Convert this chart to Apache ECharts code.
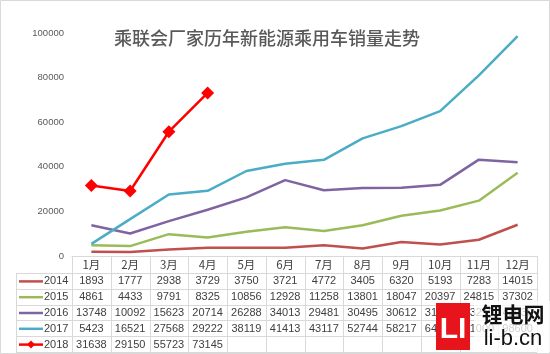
<!DOCTYPE html>
<html><head><meta charset="utf-8">
<script src="https://cdn.jsdelivr.net/npm/echarts@6/dist/echarts.min.js"></script>
<style>html,body{margin:0;padding:0;background:#fff}#c{width:550px;height:354px}</style>
</head><body><div id="c"></div>
<script>
const months = ['1月','2月','3月','4月','5月','6月','7月','8月','9月','10月','11月','12月'];
const years = ['2014','2015','2016','2017','2018'];
const s2014 = [1893,1777,2938,3729,3750,3721,4772,3405,6320,5193,7283,14015];
const s2015 = [4861,4433,9791,8325,10856,12928,11258,13801,18047,20397,24815,37302];
const s2016 = [13748,10092,15623,20714,26288,34013,29481,30495,30612,31900,43210,42030];
const s2017 = [5423,16521,27568,29222,38119,41413,43117,52744,58217,64930,81000,98600];
const s2018 = [31638,29150,55723,73145];
const colors = ['#C0504D','#9BBB59','#8064A2','#4BACC6','#FF0000'];
const allData = [s2014,s2015,s2016,s2017,s2018];
const titleText = '乘联会厂家历年新能源乘用车销量走势';

(function(){
const chart = echarts.init(document.getElementById('c'));
const series = years.map((y,i)=>({
  name:y, type:'line', data: allData[i],
  symbol: i===4 ? 'diamond' : 'none', symbolSize: 13,
  lineStyle:{color:colors[i], width:2.5},
  itemStyle:{color:colors[i]},
  z: 2+i
}));
chart.setOption({
  animation:false,
  title:{text:titleText, left:262, top:24, textAlign:'center',
    textStyle:{fontFamily:'Noto Sans CJK SC', fontSize:18, fontWeight:500, color:'#595959'}},
  grid:{left:72, right:13, top:33, bottom:98},
  xAxis:{type:'category', data:months, boundaryGap:true,
    axisLine:{lineStyle:{color:'#d9d9d9'}}, axisTick:{show:false}, axisLabel:{show:false}},
  yAxis:{type:'value', min:0, max:100000, interval:20000,
    splitLine:{show:false}, axisLine:{show:false}, axisTick:{show:false},
    axisLabel:{fontFamily:'Liberation Sans', fontSize:9.5, color:'#595959', margin:8,
      formatter:function(v){return String(v);}}},
  series: series
});

const g = [];
const c0 = chart.convertToPixel({xAxisIndex:0}, 0);
const band = chart.convertToPixel({xAxisIndex:0}, 1) - c0;
const leftX = c0 - band/2, rightX = leftX + band*12;
const topY = chart.convertToPixel({yAxisIndex:0}, 0);
const headH = 17, rowH = 15.8;
const lineC = '#d9d9d9';
const tableBottom = topY + headH + rowH*5;
const legLeft = 16;
g.push({type:'line', shape:{x1:leftX,y1:topY+0.5,x2:rightX,y2:topY+0.5}, style:{stroke:lineC,lineWidth:1}});
for(let r=0;r<=5;r++){
  const y = Math.round(topY+headH+rowH*r)+0.5;
  g.push({type:'line', shape:{x1:legLeft,y1:y,x2:rightX,y2:y}, style:{stroke:lineC,lineWidth:1}});
}
for(let k=0;k<=12;k++){
  const x = Math.round(leftX+band*k)+0.5;
  g.push({type:'line', shape:{x1:x,y1:topY,x2:x,y2:tableBottom}, style:{stroke:lineC,lineWidth:1}});
}
g.push({type:'line', shape:{x1:legLeft+0.5,y1:topY+headH,x2:legLeft+0.5,y2:tableBottom}, style:{stroke:lineC,lineWidth:1}});
months.forEach((m,i)=>{
  g.push({type:'text', x:c0+band*i, y:topY+headH/2+0.5, style:{text:m, align:'center', verticalAlign:'middle',
    font:'11.5px "Noto Sans CJK SC"', fill:'#404040'}});
});
years.forEach((yr,r)=>{
  const cy = topY+headH+rowH*r+rowH/2+0.5;
  allData[r].forEach((v,i)=>{
    g.push({type:'text', x:c0+band*i, y:cy, style:{text:String(v), align:'center', verticalAlign:'middle',
      font:'11px "Liberation Sans"', fill:'#404040'}});
  });
  g.push({type:'line', shape:{x1:19,y1:cy,x2:43,y2:cy}, style:{stroke:colors[r], lineWidth:2.5}});
  if(r===4){
    g.push({type:'polygon', shape:{points:[[31,cy-4],[35,cy],[31,cy+4],[27,cy]]}, style:{fill:colors[r]}});
  }
  g.push({type:'text', x:44, y:cy, style:{text:yr, align:'left', verticalAlign:'middle',
    font:'11px "Liberation Sans"', fill:'#404040'}});
});
g.push({type:'rect', shape:{x:474,y:301,width:76,height:51}, style:{fill:'rgba(255,255,255,0.75)'}, z:50});
g.push({type:'rect', shape:{x:436,y:303,width:34,height:47}, style:{fill:'#E8141B'}, z:51});
g.push({type:'text', x:453, y:330, style:{text:'LI', align:'center', verticalAlign:'middle', font:'bold 30px "Liberation Sans"', fill:'#fff'}, z:52});
g.push({type:'text', x:513, y:314, style:{text:'锂电网', align:'center', verticalAlign:'middle', font:'bold 21px "Noto Sans CJK SC"', fill:'#111'}, z:52});
g.push({type:'text', x:513, y:339, style:{text:'li-b.cn', align:'center', verticalAlign:'middle', font:'22px "Liberation Sans"', fill:'#111'}, z:52});
g.push({type:'rect', shape:{x:0.5,y:0.5,width:549,height:353}, style:{fill:'none', stroke:'#d9d9d9', lineWidth:1}, z:0});
chart.setOption({graphic:g});
})();
</script></body></html>
